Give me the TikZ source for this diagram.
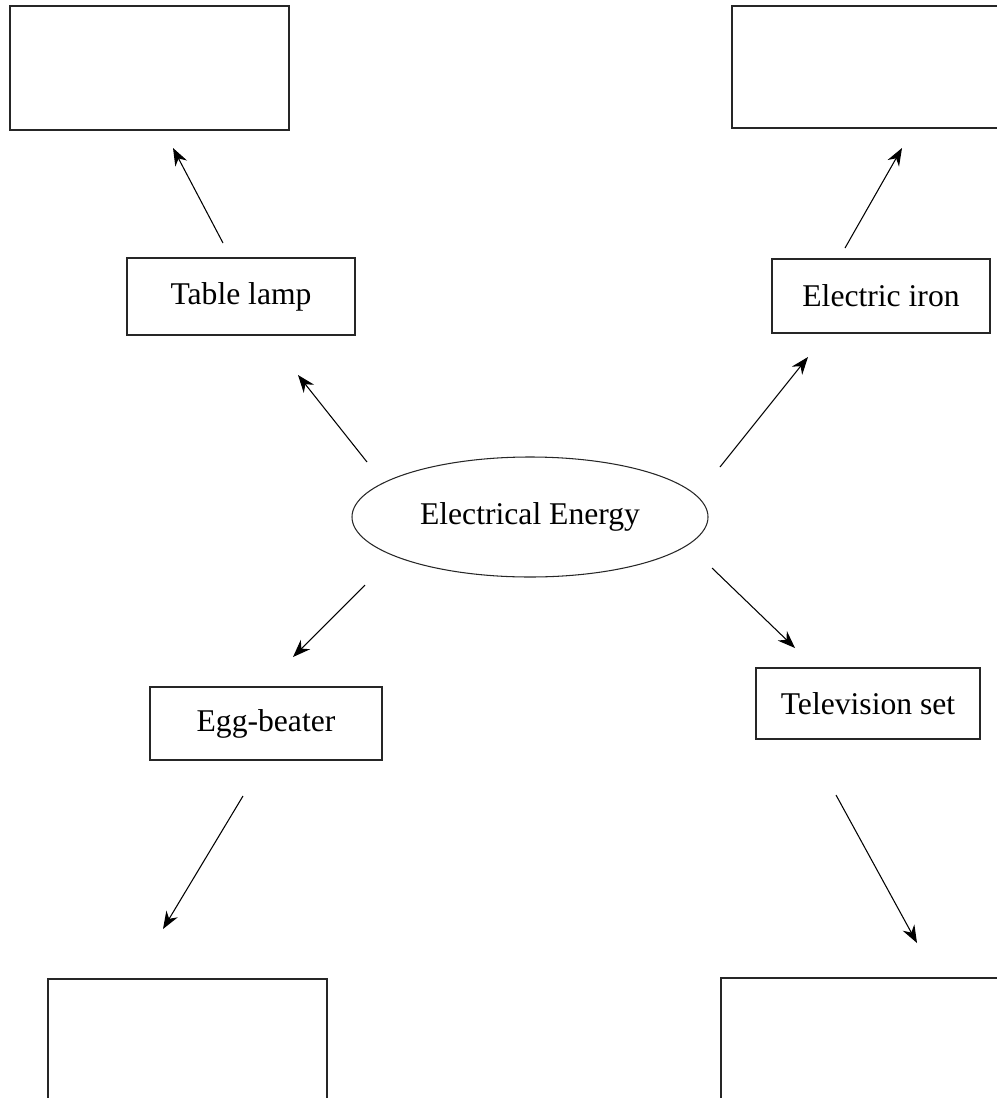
\documentclass[tikz,border=0pt]{standalone}
\usepackage{fontspec}
\setmainfont{Liberation Serif}
\usepackage{tikz}
\usetikzlibrary{calc, shapes.geometric, arrows.meta}

\begin{document}
\begin{tikzpicture}[x=0.2mm, y=-0.2mm, >={Stealth[length=10pt, width=7.5pt]},
    hop/.style={draw=black!85, line width=0.6pt, font=\fontsize{18}{21}\selectfont},
    muiten/.style={->, line width=0.6pt}]
    % Khung ảnh
    \useasboundingbox (0,0) rectangle (997,1098);
    \clip (0,0) rectangle (997,1098);

    % Nút trung tâm
    \node[hop, ellipse, minimum width=71.2mm, minimum height=24mm] (energy) at (530,517) {Electrical Energy};

    % Các thiết bị
    \node[hop, minimum width=45.6mm, minimum height=15.4mm] (lamp) at (241,296.5) {Table lamp};
    \node[hop, minimum width=43.6mm, minimum height=14.8mm] (iron) at (881,296) {Electric iron};
    \node[hop, minimum width=46.4mm, minimum height=14.6mm] (egg) at (266,723.5) {Egg-beater};
    \node[hop, minimum width=44.8mm, minimum height=14.2mm] (tv) at (868,703.5) {Television set};

    % Các ô trống để điền
    \node[hop, minimum width=55.8mm, minimum height=24.8mm] (tl) at (149.5,68) {};
    \node[hop, minimum width=53.6mm, minimum height=24.4mm] (tr) at (866,67) {};
    \node[hop, minimum width=55.8mm, minimum height=30mm] (bl) at (187.5,1054) {};
    \node[hop, minimum width=59.8mm, minimum height=30mm] (br) at (870.5,1053) {};

    % Mũi tên từ năng lượng điện
    \draw[muiten] ($(energy)+(-163,-55)$) -- ($(lamp)+(57,78.5)$);
    \draw[muiten] ($(energy)+(190,-50)$) -- ($(iron)+(-73,61)$);
    \draw[muiten] ($(energy)+(-165,68)$) -- ($(egg)+(27,-66.5)$);
    \draw[muiten] ($(energy)+(182,51)$) -- ($(tv)+(-73,-55.5)$);

    % Mũi tên từ thiết bị tới ô trống
    \draw[muiten] ($(lamp)+(-18,-53.5)$) -- ($(tl)+(23.5,80)$);
    \draw[muiten] ($(iron)+(-36,-48)$) -- ($(tr)+(36,81)$);
    \draw[muiten] ($(egg)+(-23,72.5)$) -- ($(bl)+(-24.5,-125)$);
    \draw[muiten] ($(tv)+(-32,91.5)$) -- ($(br)+(46.5,-110)$);
\end{tikzpicture}
\end{document}
